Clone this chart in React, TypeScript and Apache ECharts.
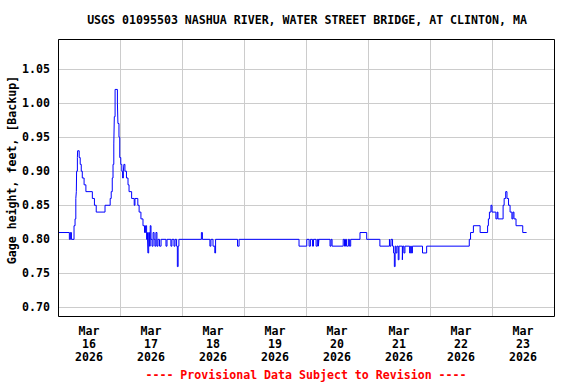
import React, { useEffect, useRef } from "react";
import * as echarts from "echarts";

// Hours since Mar 16 2026 00:00 and gage height (ft)
const hours = [
  0, 4.4, 4.8, 5.2, 6.2, 6.6, 6.9, 7.1, 7.2, 7.5, 7.6, 8.2, 8.6, 9.0, 9.4, 10.1, 10.8, 13.3, 14.1, 14.8,
  18.2, 20.2, 20.6, 21.0, 21.3, 21.6, 21.8, 22.1, 23.0, 23.2, 23.6, 23.9, 24.3, 24.7, 25.0, 25.3, 25.5, 25.9,
  26.5, 27.1, 27.5, 28.5, 29.5, 29.8, 30.9, 31.4, 32.1, 32.9, 33.5, 33.9, 34.3, 34.6, 34.8, 35.1, 35.4, 35.7,
  36.0, 36.4, 36.8, 37.2, 37.5, 37.9, 38.3, 38.7, 39.3, 39.9, 41.8, 42.2, 43.7, 44.1, 44.9, 45.3, 45.9, 46.2,
  46.5, 46.8, 55.5, 55.9, 58.8, 59.2, 60.0, 60.7, 61.0, 69.5, 70.1, 93.3, 96.3, 97.2, 97.7, 98.5, 98.9, 99.9,
  100.4, 100.8, 101.0, 105.3, 105.7, 106.1, 110.4, 110.9, 111.3, 111.7, 112.4, 112.8, 113.3, 116.9, 119.5,
  124.6, 128.3, 128.5, 128.9, 129.5, 129.9, 130.2, 130.5, 130.8, 131.2, 131.7, 132.0, 133.3, 133.5, 133.9,
  134.3, 136.1, 136.5, 136.8, 137.2, 141.1, 142.7, 159.2, 159.7, 160.8, 163.4, 166.3, 166.6, 167.0, 167.6,
  168.0, 169.5, 170.0, 170.3, 172.3, 172.7, 173.3, 173.8, 174.4, 175.0, 175.7, 176.1, 176.5, 177.3, 179.9, 181.4,
];
const gageHeight = [
  0.81, 0.80, 0.81, 0.80, 0.82, 0.83, 0.86, 0.87, 0.90, 0.92, 0.93, 0.92, 0.91, 0.90, 0.89, 0.88, 0.87, 0.86, 0.85, 0.84,
  0.85, 0.86, 0.87, 0.89, 0.91, 0.94, 0.98, 1.02, 1.00, 0.97, 0.95, 0.92, 0.91, 0.90, 0.89, 0.90, 0.91, 0.90,
  0.89, 0.88, 0.87, 0.86, 0.85, 0.86, 0.85, 0.84, 0.83, 0.82, 0.81, 0.82, 0.80, 0.81, 0.78, 0.81, 0.79, 0.82,
  0.80, 0.79, 0.81, 0.80, 0.79, 0.81, 0.79, 0.80, 0.79, 0.80, 0.79, 0.80, 0.79, 0.80, 0.79, 0.80, 0.79, 0.76,
  0.79, 0.80, 0.81, 0.80, 0.79, 0.80, 0.79, 0.78, 0.80, 0.79, 0.80, 0.79, 0.80, 0.79, 0.80, 0.79, 0.80, 0.79,
  0.80, 0.79, 0.80, 0.79, 0.80, 0.79, 0.80, 0.79, 0.80, 0.79, 0.80, 0.79, 0.80, 0.81, 0.80,
  0.79, 0.80, 0.79, 0.80, 0.79, 0.78, 0.76, 0.79, 0.78, 0.79, 0.77, 0.79, 0.77, 0.79, 0.78,
  0.79, 0.78, 0.79, 0.78, 0.79, 0.78, 0.79, 0.80, 0.81, 0.82, 0.81, 0.82, 0.83, 0.84, 0.85,
  0.84, 0.83, 0.84, 0.83, 0.85, 0.86, 0.87, 0.86, 0.85, 0.84, 0.83, 0.84, 0.83, 0.82, 0.81, 0.81,
];

const month = "Mar";
const dayLabels = ["16", "17", "18", "19", "20", "21", "22", "23"];
const year = "2026";

const titleText = "USGS 01095503 NASHUA RIVER, WATER STREET BRIDGE, AT CLINTON, MA";
const yName = "Gage height, feet, [Backup]";
const footerText = "---- Provisional Data Subject to Revision ----";

const FONT = "'DejaVu Sans Mono', 'Liberation Mono', monospace";

export default function App() {
  const ref = useRef<HTMLDivElement>(null);
  useEffect(() => {
    if (!ref.current) return;
    const chart = echarts.init(ref.current, null, { renderer: "svg" });
    const data = hours.map((h, i) => [h, gageHeight[i]]);
    chart.setOption({
      animation: false,
      backgroundColor: "#ffffff",
      grid: {
        left: 58,
        right: 22,
        top: 39,
        bottom: 68,
        show: false,
      },
      xAxis: [
        {
          type: "value",
          min: 0,
          max: 192,
          interval: 24,
          axisLine: { show: false },
          axisTick: { show: false },
          axisLabel: { show: false },
          splitLine: { show: true, lineStyle: { color: "#cccccc", width: 1 } },
        },
        {
          type: "value",
          min: 0,
          max: 192,
          interval: 12,
          position: "bottom",
          offset: 0,
          axisLine: { show: false },
          axisTick: { show: false },
          splitLine: { show: false },
          axisLabel: {
            show: true,
            margin: 8,
            fontFamily: FONT,
            fontWeight: "bold",
            fontSize: 11.6,
            color: "#000000",
            lineHeight: 13,
            showMinLabel: false,
            showMaxLabel: false,
            formatter: (v: number) => {
              if (v % 24 !== 12) return "";
              const idx = (v - 12) / 24;
              return `${month}\n${dayLabels[idx]}\n${year}`;
            },
          },
        },
      ],
      yAxis: {
        type: "value",
        min: 0.6875,
        max: 1.094,
        splitNumber: 8,
        axisLine: { show: false },
        axisTick: { show: false },
        splitLine: { show: true, lineStyle: { color: "#cccccc", width: 1 } },
        axisLabel: {
          margin: 8,
          fontFamily: FONT,
          fontWeight: "bold",
          fontSize: 11.6,
          color: "#000000",
          showMinLabel: false,
          showMaxLabel: false,
          formatter: (v: number) => v.toFixed(2),
        },
      },
      graphic: [
        {
          type: "rect",
          z: 100,
          shape: { x: 58.5, y: 39.5, width: 496, height: 277 },
          style: { fill: "none", stroke: "#000000", lineWidth: 1 },
          silent: true,
        },
        {
          type: "text",
          x: 307,
          y: 20,
          style: {
            text: titleText,
            fontFamily: FONT,
            fontWeight: "bold",
            fontSize: 11.6,
            fill: "#000000",
            textAlign: "center",
            textVerticalAlign: "middle",
          },
        },
        {
          type: "text",
          x: 12,
          y: 170,
          rotation: Math.PI / 2,
          style: {
            text: yName,
            fontFamily: FONT,
            fontWeight: "bold",
            fontSize: 11.6,
            fill: "#000000",
            textAlign: "center",
            textVerticalAlign: "middle",
          },
        },
        {
          type: "text",
          x: 306,
          y: 375,
          style: {
            text: footerText,
            fontFamily: FONT,
            fontWeight: "bold",
            fontSize: 11.6,
            fill: "#ff0000",
            textAlign: "center",
            textVerticalAlign: "middle",
          },
        },
      ],
      series: [
        {
          type: "line",
          xAxisIndex: 0,
          data,
          step: "end",
          showSymbol: false,
          symbol: "none",
          lineStyle: { color: "#0000ff", width: 1 },
          z: 3,
        },
      ],
    });
    return () => chart.dispose();
  }, []);
  return (
    <div
      ref={ref}
      style={{ position: "fixed", left: 0, top: 0, width: 576, height: 384, background: "#fff" }}
    />
  );
}
